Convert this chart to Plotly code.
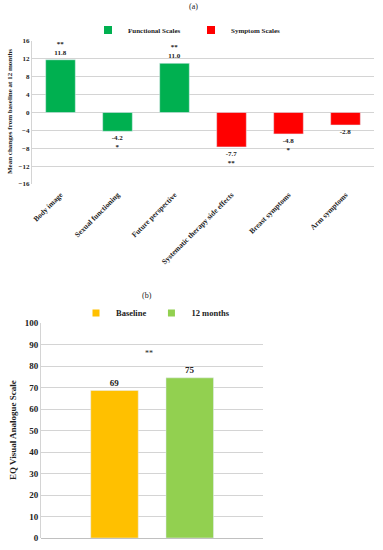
import plotly.graph_objects as go

W, H = 383, 550

# ---- data (a) ----
func_cats = ["Body image", "Sexual functioning", "Future perspective"]
func_vals = [11.8, -4.2, 11.0]
func_sig = ["**", "*", "**"]
sym_cats = ["Systematic therapy side effects", "Breast symptoms", "Arm symptoms"]
sym_vals = [-7.7, -4.8, -2.8]
sym_sig = ["**", "*", ""]
all_cats = func_cats + sym_cats
a_ticks = [16, 12, 8, 4, 0, -4, -8, -12, -16]

# ---- data (b) ----
b_cat = ["EQ-VAS"]
baseline_val = [68.6]
month12_val = [74.5]
baseline_lbl = ["69"]
month12_lbl = ["75"]
b_sig = "**"
b_ticks = [0, 10, 20, 30, 40, 50, 60, 70, 80, 90, 100]

SERIF = "Liberation Serif"
TXT = "#222"
C_FUNC, C_SYM = "#00B050", "#FF0000"
C_BASE, C_12 = "#FFC000", "#92D050"


def px_x(x):
    return x / W


def px_y(y):
    return 1 - y / H


def lbl(vals, sig):
    out = []
    for v, s in zip(vals, sig):
        if v >= 0:
            out.append((s + "<br>" if s else "") + f"{v:.1f}")
        else:
            out.append(f"{v:.1f}" + ("<br>" + s if s else ""))
    return out


fig = go.Figure()

bar_font_a = dict(family=SERIF, size=7, color=TXT, weight="bold")
fig.add_trace(go.Bar(
    x=func_cats, y=func_vals, name="Functional Scales",
    marker_color=C_FUNC, width=0.52, offset=-0.26,
    text=lbl(func_vals, func_sig), textposition="outside", textfont=bar_font_a,
    cliponaxis=False, xaxis="x", yaxis="y", showlegend=False,
))
fig.add_trace(go.Bar(
    x=sym_cats, y=sym_vals, name="Symptom Scales",
    marker_color=C_SYM, width=0.52, offset=-0.26,
    text=lbl(sym_vals, sym_sig), textposition="outside", textfont=bar_font_a,
    cliponaxis=False, xaxis="x", yaxis="y", showlegend=False,
))

bar_font_b = dict(family=SERIF, size=9, color=TXT, weight="bold")
fig.add_trace(go.Bar(
    x=b_cat, y=baseline_val, name="Baseline",
    marker_color=C_BASE, width=0.214, offset=-0.276,
    text=baseline_lbl, textposition="outside", textfont=bar_font_b,
    cliponaxis=False, xaxis="x2", yaxis="y2", showlegend=False,
))
fig.add_trace(go.Bar(
    x=b_cat, y=month12_val, name="12 months",
    marker_color=C_12, width=0.214, offset=0.063,
    text=month12_lbl, textposition="outside", textfont=bar_font_b,
    cliponaxis=False, xaxis="x2", yaxis="y2", showlegend=False,
))

# legend entries
for name, col, leg, ax, ay, sz in [
    ("Functional Scales", C_FUNC, "legend", "x", "y", 8),
    ("Symptom Scales", C_SYM, "legend", "x", "y", 8),
    ("Baseline", C_BASE, "legend2", "x2", "y2", 7),
    ("12 months", C_12, "legend2", "x2", "y2", 7),
]:
    fig.add_trace(go.Scatter(
        x=[None], y=[None], mode="markers", name=name,
        marker=dict(symbol="square", size=sz, color=col),
        xaxis=ax, yaxis=ay, legend=leg, hoverinfo="skip",
    ))

grid = "#d4d4d4"
fig.update_layout(
    width=W, height=H,
    margin=dict(l=0, r=0, t=0, b=0),
    paper_bgcolor="white", plot_bgcolor="white",
    barmode="overlay",
    font=dict(family=SERIF, color=TXT),
    xaxis=dict(
        domain=[px_x(32), px_x(374)], anchor="y",
        categoryorder="array", categoryarray=all_cats,
        tickangle=-45, tickfont=dict(family=SERIF, size=7.5, color=TXT, weight="bold"),
        ticklabelstandoff=4,
        showgrid=False, showline=False, ticks="", automargin=False,
    ),
    yaxis=dict(
        domain=[px_y(184), px_y(41)], anchor="x",
        range=[-16, 16], tickvals=a_ticks,
        tickfont=dict(family=SERIF, size=7, color=TXT, weight="bold"),
        showgrid=True, gridcolor=grid, gridwidth=1,
        zeroline=True, zerolinecolor=grid, zerolinewidth=1,
        showline=True, linecolor=grid, linewidth=1,
        ticks="", automargin=False,
    ),
    xaxis2=dict(
        domain=[px_x(41), px_x(263)], anchor="y2",
        showticklabels=False, showgrid=False, showline=False, ticks="",
        automargin=False,
    ),
    yaxis2=dict(
        domain=[px_y(538), px_y(323)], anchor="x2",
        range=[0, 100], tickvals=b_ticks,
        tickfont=dict(family=SERIF, size=9, color=TXT, weight="bold"),
        showgrid=True, gridcolor=grid, gridwidth=1,
        zeroline=True, zerolinecolor="#c0c0c0", zerolinewidth=1,
        showline=True, linecolor=grid, linewidth=1,
        ticks="", automargin=False,
    ),
    legend=dict(
        orientation="h", x=px_x(88), xanchor="left", y=px_y(30), yanchor="middle",
        font=dict(family=SERIF, size=7, color=TXT, weight="bold"),
        bgcolor="rgba(0,0,0,0)", itemwidth=30, entrywidth=58, tracegroupgap=0,
    ),
    legend2=dict(
        orientation="h", x=px_x(76), xanchor="left", y=px_y(313), yanchor="middle",
        font=dict(family=SERIF, size=8.5, color=TXT, weight="bold"),
        bgcolor="rgba(0,0,0,0)", itemwidth=30,
    ),
    showlegend=True,
)

annos = [
    dict(text="(a)", x=px_x(193), y=px_y(7), font=dict(size=8)),
    dict(text="(b)", x=px_x(147), y=px_y(295), font=dict(size=8)),
    dict(text="<b>Mean changes from baseline at 12 months</b>", x=px_x(10), y=px_y(112),
         textangle=-90, font=dict(size=7)),
    dict(text="<b>EQ Visual Analogue Scale</b>", x=px_x(13), y=px_y(430),
         textangle=-90, font=dict(size=9)),
    dict(text=b_sig, x=px_x(149), y=px_y(353), font=dict(size=8)),
]
for a in annos:
    a.update(xref="paper", yref="paper", showarrow=False, xanchor="center", yanchor="middle")
    a["font"].update(family=SERIF, color=TXT)
    fig.add_annotation(**a)

fig.write_html("out.html", config={"displayModeBar": False},
               post_script="document.body.style.margin='0';")
